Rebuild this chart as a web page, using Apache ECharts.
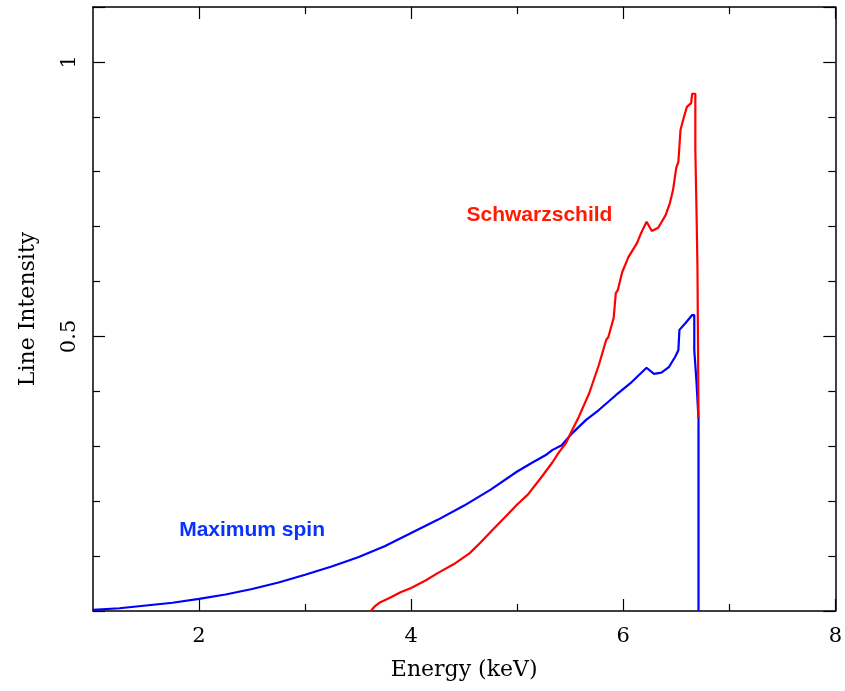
<!DOCTYPE html>
<html>
<head>
<meta charset="utf-8">
<script src="https://cdn.jsdelivr.net/npm/echarts@6/dist/echarts.min.js"></script>
<style>
  html, body { margin: 0; padding: 0; background: #fff; }
  #chart { width: 845px; height: 691px; }
</style>
</head>
<body>
<div id="chart"></div>
<script>
// 能量 (keV) 与谱线强度，[x, y] 成对，读自原图
const maxSpin = [
  [1.00, 0.002], [1.25, 0.005], [1.50, 0.010], [1.75, 0.015], [2.00, 0.022],
  [2.25, 0.030], [2.50, 0.040], [2.75, 0.052], [3.00, 0.066], [3.25, 0.081],
  [3.50, 0.098], [3.75, 0.118], [4.00, 0.142], [4.25, 0.166], [4.50, 0.192],
  [4.75, 0.221], [5.00, 0.254], [5.14, 0.270], [5.27, 0.284], [5.33, 0.293],
  [5.42, 0.302], [5.52, 0.324], [5.65, 0.348], [5.77, 0.366], [5.93, 0.393],
  [6.08, 0.417], [6.22, 0.443], [6.29, 0.432], [6.36, 0.434], [6.43, 0.444],
  [6.49, 0.463], [6.52, 0.475], [6.53, 0.512], [6.59, 0.525], [6.65, 0.539],
  [6.67, 0.539], [6.67, 0.475], [6.69, 0.420], [6.71, 0.350], [6.71, 0.0]
]
const schwarzschild = [
  [3.62, 0.0], [3.66, 0.009], [3.70, 0.015], [3.80, 0.024], [3.90, 0.034],
  [4.00, 0.042], [4.14, 0.056], [4.25, 0.069], [4.40, 0.085], [4.55, 0.105],
  [4.65, 0.124], [4.76, 0.146], [4.88, 0.170], [5.00, 0.194], [5.10, 0.212],
  [5.23, 0.244], [5.33, 0.270], [5.39, 0.288], [5.46, 0.306], [5.52, 0.330],
  [5.58, 0.353], [5.68, 0.397], [5.77, 0.448], [5.84, 0.494], [5.86, 0.499],
  [5.91, 0.534], [5.93, 0.579], [5.95, 0.585], [5.99, 0.617], [6.05, 0.645],
  [6.13, 0.670], [6.17, 0.689], [6.22, 0.709], [6.27, 0.692], [6.33, 0.698],
  [6.40, 0.721], [6.44, 0.743], [6.47, 0.767], [6.50, 0.807], [6.52, 0.818],
  [6.54, 0.876], [6.57, 0.898], [6.60, 0.918], [6.64, 0.925], [6.65, 0.942],
  [6.68, 0.942], [6.68, 0.840], [6.69, 0.840], [6.69, 0.740], [6.70, 0.740],
  [6.70, 0.625], [6.71, 0.625], [6.71, 0.352]
]
// 刻度
const xMajorTicks = [2, 4, 6, 8]
const xMinorTicks = [3, 5, 7]
const yLabelTicks = [0.5, 1]

const serif = 'DejaVu Serif'
const black = '#000'

// x轴：主刻度 + 次刻度，上下各一套
const makeX = (pos, values, len, withLine, withLabel) => ({
  type: 'value',
  position: pos,
  min: 1,
  max: 8,
  axisLine: { show: withLine, onZero: false, lineStyle: { color: black, width: 1.5 } },
  axisTick: { show: true, inside: true, length: len, customValues: values, lineStyle: { color: black, width: 1.2 } },
  axisLabel: withLabel
    ? { show: true, customValues: values, margin: 15, color: black, fontFamily: serif, fontSize: 21 }
    : { show: false },
  splitLine: { show: false },
})

const makeY = (pos, withLabel) => ({
  type: 'value',
  position: pos,
  min: 0,
  max: 1.1,
  interval: 0.5,
  axisLine: { show: true, onZero: false, lineStyle: { color: black, width: 1.5 } },
  axisTick: { show: true, inside: true, length: 12, lineStyle: { color: black, width: 1.2 } },
  minorTick: { show: true, splitNumber: 5, length: 7, lineStyle: { color: black, width: 1.2 } },
  axisLabel: withLabel
    ? {
        show: true, customValues: yLabelTicks, rotate: 90, margin: 13,
        color: black, fontFamily: serif, fontSize: 21,
      }
    : { show: false },
  splitLine: { show: false },
  minorSplitLine: { show: false },
})

const xMain = makeX('bottom', xMajorTicks, 12, true, true)
xMain.name = 'Energy (keV)'
xMain.nameLocation = 'middle'
xMain.nameGap = 48
xMain.nameTextStyle = { color: black, fontFamily: serif, fontSize: 22 }

const yMain = makeY('left', true)
yMain.name = 'Line Intensity'
yMain.nameLocation = 'middle'
yMain.nameGap = 54
yMain.nameTextStyle = { color: black, fontFamily: serif, fontSize: 22 }

const options = {
  animation: false,
  backgroundColor: '#fff',
  grid: { left: 93, right: 8, top: 7, bottom: 80 },
  xAxis: [
    xMain,
    makeX('bottom', xMinorTicks, 7, false, false),
    makeX('top', xMajorTicks, 12, true, false),
    makeX('top', xMinorTicks, 7, false, false),
  ],
  yAxis: [yMain, makeY('right', false)],
  series: [
    {
      name: 'Maximum spin',
      type: 'line',
      data: maxSpin,
      showSymbol: false,
      lineStyle: { color: '#0000ff', width: 2.2 },
    },
    {
      name: 'Schwarzschild',
      type: 'line',
      data: schwarzschild,
      showSymbol: false,
      lineStyle: { color: '#ff0000', width: 2.2 },
    },
    // 曲线旁的文字说明
    {
      type: 'scatter',
      symbolSize: 0,
      silent: true,
      itemStyle: { opacity: 1 },
      data: [
        { value: [5.21, 0.721], label: { formatter: 'Schwarzschild', color: '#ff1a00' } },
        { value: [2.50, 0.148], label: { formatter: 'Maximum spin', color: '#0a32ff' } },
      ],
      label: {
        show: true,
        position: 'inside',
        opacity: 1,
        fontFamily: 'Liberation Sans Narrow, Liberation Sans, Arial',
        fontWeight: 'bold',
        fontSize: 21,
      },
    },
  ],
}

const chart = echarts.init(document.getElementById('chart'))
chart.setOption(options)
</script>
</body>
</html>
